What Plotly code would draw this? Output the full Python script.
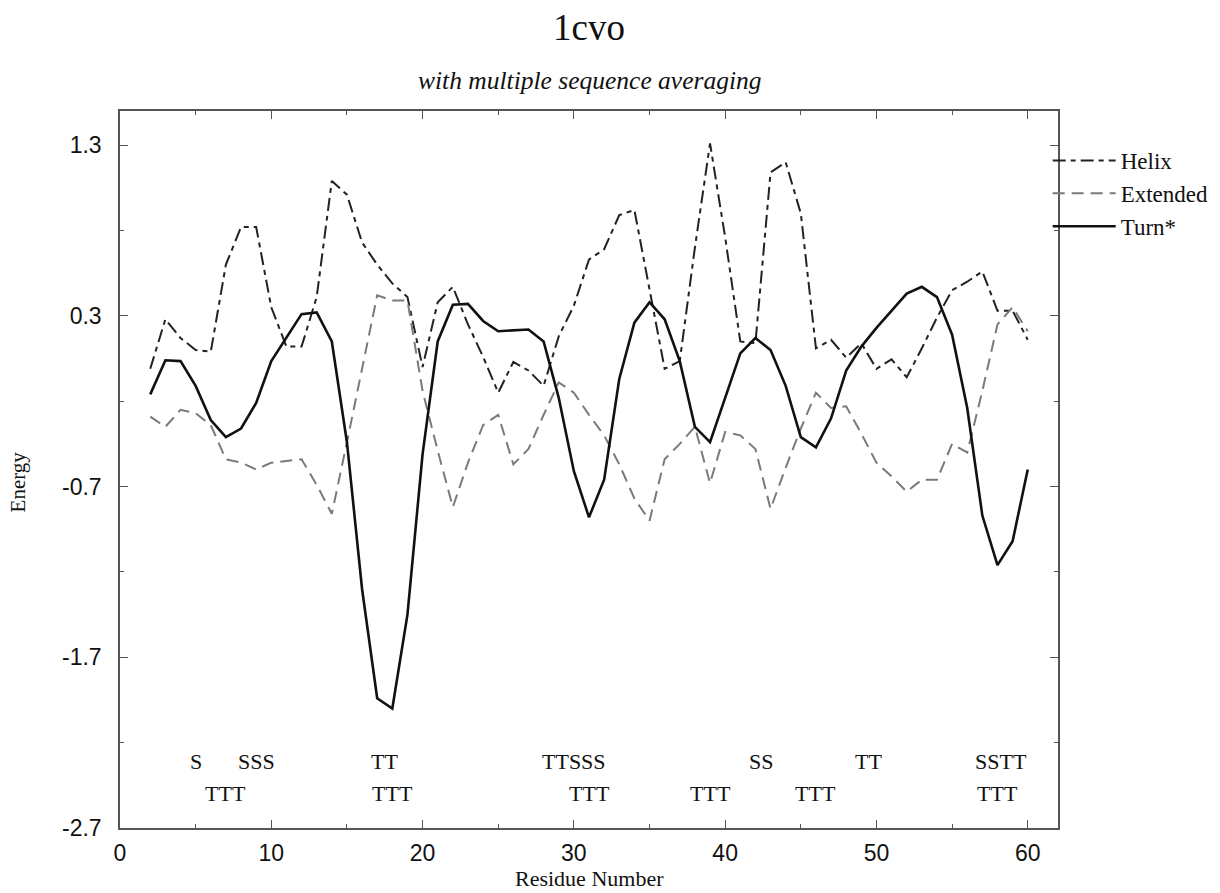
import plotly.graph_objects as go

residues = list(range(2, 61))

helix = [-0.01, 0.28, 0.17, 0.10, 0.09, 0.60, 0.82, 0.82, 0.35, 0.12,
         0.12, 0.41, 1.09, 1.01, 0.73, 0.60, 0.49, 0.41, 0.00, 0.38,
         0.47, 0.25, 0.06, -0.15, 0.03, -0.02, -0.11, 0.18, 0.36, 0.63,
         0.69, 0.89, 0.92, 0.45, -0.01, 0.035, 0.70, 1.31, 0.76, 0.15,
         0.14, 1.14, 1.20, 0.90, 0.11, 0.16, 0.055, 0.14, -0.01, 0.045,
         -0.06, 0.11, 0.29, 0.45, 0.50, 0.56, 0.33, 0.33, 0.16]

extended = [-0.29, -0.35, -0.25, -0.27, -0.34, -0.54, -0.56, -0.60, -0.56, -0.55,
            -0.54, -0.69, -0.86, -0.44, -0.02, 0.42, 0.39, 0.39, -0.14, -0.49,
            -0.82, -0.56, -0.34, -0.28, -0.57, -0.48, -0.28, -0.09, -0.15, -0.28,
            -0.40, -0.57, -0.77, -0.90, -0.54, -0.45, -0.35, -0.68, -0.38, -0.40,
            -0.48, -0.83, -0.59, -0.36, -0.15, -0.24, -0.23, -0.39, -0.56, -0.64,
            -0.73, -0.66, -0.66, -0.45, -0.50, -0.14, 0.25, 0.35, 0.21]

turn = [-0.16, 0.04, 0.035, -0.11, -0.31, -0.41, -0.36, -0.21, 0.035, 0.17,
        0.31, 0.32, 0.15, -0.44, -1.30, -1.94, -2.00, -1.45, -0.51, 0.15,
        0.365, 0.37, 0.27, 0.21, 0.215, 0.22, 0.15, -0.18, -0.61, -0.88,
        -0.66, -0.07, 0.26, 0.38, 0.28, 0.035, -0.35, -0.44, -0.18, 0.08,
        0.17, 0.10, -0.11, -0.41, -0.47, -0.30, -0.02, 0.12, 0.23, 0.33,
        0.43, 0.47, 0.41, 0.19, -0.24, -0.87, -1.16, -1.02, -0.60]

# secondary-structure labels (row 1 and row 2)
ss_row1_text = ["S", "SSS", "TT", "TTSSS", "SS", "TT", "SSTT"]
ss_row1_x = [5, 9, 17.5, 30, 42.4, 49.5, 58.2]
ss_row2_text = ["TTT", "TTT", "TTT", "TTT", "TTT", "TTT"]
ss_row2_x = [7, 18, 31, 39, 46, 58]
ss_row1_y = -2.31
ss_row2_y = -2.50

y_ticks = [-2.7, -1.7, -0.7, 0.3, 1.3]
x_ticks = [0, 10, 20, 30, 40, 50, 60]

SERIF = "Liberation Serif, Times New Roman, serif"
SANS = "Liberation Sans, Arial, sans-serif"

fig = go.Figure()
fig.add_trace(go.Scatter(x=residues, y=helix, mode="lines", name="Helix",
                         line=dict(color="#222222", width=2, dash="13px,5px,5px,5px")))
fig.add_trace(go.Scatter(x=residues, y=extended, mode="lines", name="Extended",
                         line=dict(color="#7a7a7a", width=2, dash="12px,7px")))
fig.add_trace(go.Scatter(x=residues, y=turn, mode="lines", name="Turn*",
                         line=dict(color="#111111", width=2.6)))

annotations = []
for t, xv in zip(ss_row1_text, ss_row1_x):
    annotations.append(dict(x=xv, y=ss_row1_y, xref="x", yref="y", text=t, showarrow=False,
                            font=dict(family=SERIF, size=22, color="#111")))
for t, xv in zip(ss_row2_text, ss_row2_x):
    annotations.append(dict(x=xv, y=ss_row2_y, xref="x", yref="y", text=t, showarrow=False,
                            font=dict(family=SERIF, size=22, color="#111")))

annotations += [
    dict(x=0.5, y=1.1166, xref="paper", yref="paper", text="1cvo", showarrow=False,
         xanchor="center", yanchor="middle", font=dict(family=SERIF, size=37, color="#111")),
    dict(x=0.5, y=1.043, xref="paper", yref="paper", text="<i>with multiple sequence averaging</i>",
         showarrow=False, xanchor="center", yanchor="middle",
         font=dict(family=SERIF, size=25.5, color="#111")),
    dict(x=-0.109, y=0.483, xref="paper", yref="paper", text="Energy", textangle=-90,
         showarrow=False, xanchor="center", yanchor="middle",
         font=dict(family=SERIF, size=21, color="#111")),
    dict(x=0.5, y=-0.071, xref="paper", yref="paper", text="Residue Number",
         showarrow=False, xanchor="center", yanchor="middle",
         font=dict(family=SERIF, size=22, color="#111")),
]

axis_common = dict(
    showgrid=False, zeroline=False, showline=True, linecolor="#555555", linewidth=1.5,
    mirror="allticks", ticks="inside", ticklen=8, tickwidth=1.2, tickcolor="#555555",
    tickfont=dict(family=SANS, size=23, color="#111"),
)

fig.update_layout(
    width=1220, height=893,
    margin=dict(l=120, r=162, t=111, b=65, autoexpand=False),
    paper_bgcolor="white", plot_bgcolor="white",
    showlegend=True,
    legend=dict(x=0.989, y=0.961, xanchor="left", yanchor="top",
                font=dict(family=SERIF, size=23, color="#111"),
                bgcolor="rgba(0,0,0,0)", itemwidth=63, tracegroupgap=0),
    annotations=annotations,
    xaxis=dict(range=[0, 62], tickvals=x_ticks, ticktext=[str(v) for v in x_ticks],
               minor=dict(dtick=5, tick0=0, ticks="inside", ticklen=4, tickcolor="#555555"),
               ticklabelstandoff=4, **axis_common),
    yaxis=dict(range=[-2.7, 1.5], tickvals=y_ticks, ticktext=[f"{v:.1f}" for v in y_ticks],
               minor=dict(dtick=0.5, tick0=-2.7, ticks="inside", ticklen=4, tickcolor="#555555"),
               ticklabelstandoff=12, **axis_common),
)

fig.write_html("out.html")
